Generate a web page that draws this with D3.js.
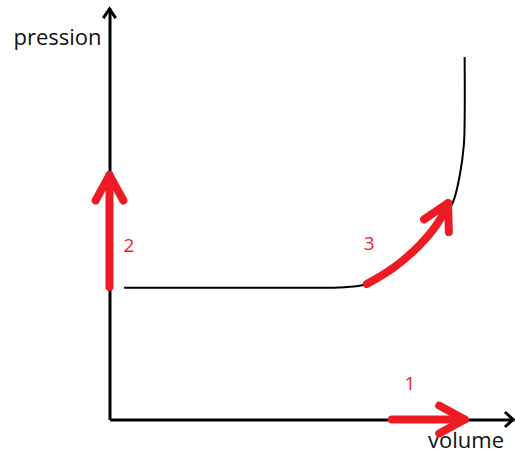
<!DOCTYPE html>
<html>
<head>
<meta charset="utf-8">
<script src="https://cdn.jsdelivr.net/npm/d3@7"></script>
<style>
  body { margin: 0; background: #fff; }
  text { font-family: "Open Sans", sans-serif; }
</style>
</head>
<body>
<div id="chart"></div>
<script>
// isotherm curve (volume, pressure), arbitrary units 0..100
var curveVolume   = [3.6, 30, 50, 56.5, 63.1, 70.1, 76.7, 81.5, 84.9, 86.6, 87.6, 87.8, 87.8];
var curvePressure = [32.0, 32.0, 32.0, 32.1, 32.8, 36.6, 42.2, 47.6, 52.8, 59.4, 66.7, 72.8, 88.1];

// red arrows: 1 along volume, 2 along pressure, 3 along the curve
var arrow1Volume   = [69.8, 87.8];
var arrow1Pressure = [0, 0];
var arrow2Volume   = [0, 0];
var arrow2Pressure = [32.2, 59.4];
var arrow3Volume   = [63.6, 70.1, 76.7, 81.2, 83.7];
var arrow3Pressure = [32.9, 36.8, 42.4, 47.8, 52.6];

var labelText     = ["1", "2", "3"];
var labelVolume   = [74.3, 4.8, 64.2];
var labelPressure = [8.9, 42.4, 42.9];

var axisTitles = ["volume", "pression"];

var width = 515, height = 454;
var margin = { top: 8, right: 1, bottom: 34.5, left: 109.5 };

var x = d3.scaleLinear().domain([0, 100]).range([margin.left, width - margin.right]);
var y = d3.scaleLinear().domain([0, 100]).range([height - margin.bottom, margin.top]);

var svg = d3.select("#chart").append("svg")
    .attr("width", width)
    .attr("height", height);

// axes without ticks, arrow heads added by hand
svg.append("g")
    .attr("transform", "translate(0," + y(0) + ")")
    .call(d3.axisBottom(x).tickValues([]).tickSizeOuter(0))
    .select(".domain").attr("stroke", "#000").attr("stroke-width", 3);

svg.append("g")
    .attr("transform", "translate(" + x(0) + ",0)")
    .call(d3.axisLeft(y).tickValues([]).tickSizeOuter(0))
    .select(".domain").attr("stroke", "#000").attr("stroke-width", 3);

function head(tipX, tipY, dx, dy, len, ang) {
    // two wings behind the tip, dx/dy is the direction of travel
    var n = Math.sqrt(dx * dx + dy * dy);
    var ux = dx / n, uy = dy / n;
    var pts = [];
    [-ang, ang].forEach(function (a) {
        var c = Math.cos(a), s = Math.sin(a);
        var bx = -(ux * c - uy * s), by = -(ux * s + uy * c);
        pts.push([tipX + bx * len, tipY + by * len]);
    });
    return [pts[0], [tipX, tipY], pts[1]];
}

var line = d3.line();

// axis arrow heads
svg.append("path")
    .attr("d", line(head(x(100) - 1, y(0), 1, 0, 11, 0.75)))
    .attr("fill", "none").attr("stroke", "#000").attr("stroke-width", 3);
svg.append("path")
    .attr("d", line(head(x(0), y(100) + 1, 0, -1, 11, 0.6)))
    .attr("fill", "none").attr("stroke", "#000").attr("stroke-width", 3);

// axis titles
svg.append("text")
    .attr("x", x(100) - 10)
    .attr("y", y(0) + 28)
    .attr("text-anchor", "end")
    .attr("font-size", 22)
    .attr("fill", "#111")
    .text(axisTitles[0]);
svg.append("text")
    .attr("x", x(0) - 8)
    .attr("y", y(100) + 37)
    .attr("text-anchor", "end")
    .attr("font-size", 22)
    .attr("fill", "#111")
    .text(axisTitles[1]);

// black curve
var curvePts = curveVolume.map(function (v, i) { return [v, curvePressure[i]]; });
svg.append("path")
    .datum(curvePts)
    .attr("d", d3.line()
        .x(function (d) { return x(d[0]); })
        .y(function (d) { return y(d[1]); })
        .curve(d3.curveCatmullRom.alpha(0.5)))
    .attr("fill", "none")
    .attr("stroke", "#000")
    .attr("stroke-width", 2);

// red arrows
var red = "#ed1c24";
var arrows = [
    [arrow1Volume, arrow1Pressure],
    [arrow2Volume, arrow2Pressure],
    [arrow3Volume, arrow3Pressure]
];
arrows.forEach(function (a) {
    var pts = a[0].map(function (v, i) { return [x(v), y(a[1][i])]; });
    svg.append("path")
        .attr("d", d3.line().curve(d3.curveCatmullRom)(pts))
        .attr("fill", "none")
        .attr("stroke", red)
        .attr("stroke-width", 8)
        .attr("stroke-linecap", "round");
    var p0 = pts[pts.length - 2], p1 = pts[pts.length - 1];
    svg.append("path")
        .attr("d", line(head(p1[0], p1[1], p1[0] - p0[0], p1[1] - p0[1], 29, 0.5)))
        .attr("fill", "none")
        .attr("stroke", red)
        .attr("stroke-width", 8)
        .attr("stroke-linecap", "round")
        .attr("stroke-linejoin", "round");
});

// numbers
svg.selectAll(".num")
    .data(labelText)
    .enter().append("text")
    .attr("class", "num")
    .attr("x", function (d, i) { return x(labelVolume[i]); })
    .attr("y", function (d, i) { return y(labelPressure[i]); })
    .attr("dy", "0.35em")
    .attr("text-anchor", "middle")
    .attr("font-size", 19)
    .attr("fill", red)
    .text(function (d) { return d; });
</script>
</body>
</html>
